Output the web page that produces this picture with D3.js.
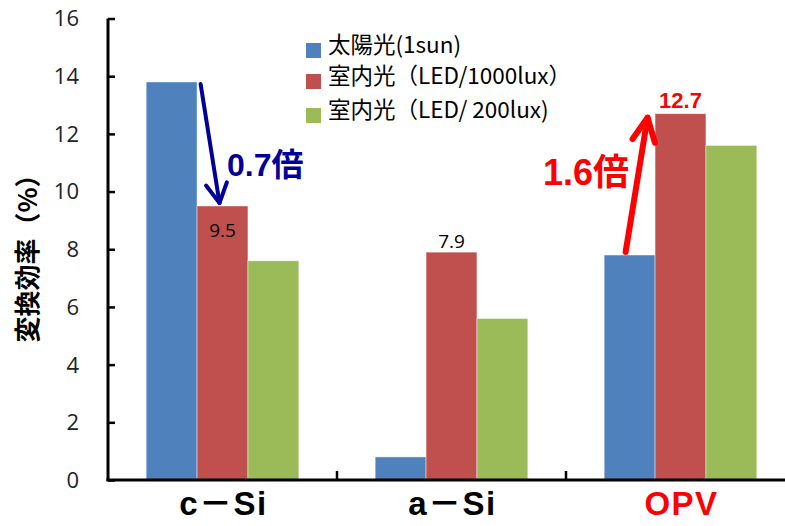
<!DOCTYPE html>
<html>
<head>
<meta charset="utf-8">
<script src="https://cdn.jsdelivr.net/npm/d3@7"></script>
<style>
  html, body { margin: 0; padding: 0; background: #fff; }
  svg { display: block; }
</style>
</head>
<body>
<svg id="chart" width="785" height="526"></svg>
<script>
// Conversion efficiency (%) by cell type and light source
const categories = ["c\uFF0DSi", "a\uFF0DSi", "OPV"];
const seriesNames = ["太陽光(1sun)", "室内光（LED/1000lux）", "室内光（LED/ 200lux)"];
const sun1 = [13.8, 0.8, 7.8];
const led1000 = [9.5, 7.9, 12.7];
const led200 = [7.6, 5.6, 11.6];
const yTicks = [0, 2, 4, 6, 8, 10, 12, 14, 16];
const seriesColors = ["#4F81BD", "#C0504D", "#9BBB59"];

const seriesValues = [sun1, led1000, led200];

const svg = d3.select("#chart");
const plot = { left: 108, right: 795, top: 18.5, bottom: 480 };
const legendRowY = [45, 76, 110];

const x = d3.scaleBand().domain(categories).range([plot.left, plot.right]).paddingInner(0).paddingOuter(0);
const x1 = d3.scaleBand().domain(d3.range(seriesNames.length)).range([0, x.bandwidth()]).paddingInner(0).paddingOuter(0.75);
const y = d3.scaleLinear().domain([0, 16]).range([plot.bottom, plot.top]);

// Bars
const groups = svg.append("g").selectAll("g")
  .data(categories)
  .join("g")
  .attr("transform", d => `translate(${x(d)},0)`);

groups.selectAll("rect")
  .data((d, i) => seriesValues.map((vals, s) => ({ s, v: vals[i] })))
  .join("rect")
  .attr("x", d => x1(d.s))
  .attr("width", x1.bandwidth())
  .attr("y", d => y(d.v))
  .attr("height", d => y(0) - y(d.v))
  .attr("fill", d => seriesColors[d.s])
  .attr("stroke", "rgba(255,255,255,0.55)")
  .attr("stroke-width", 0.8);

// Y axis with inward ticks
const yAxis = d3.axisRight(y).tickValues(yTicks).tickSize(7).tickFormat("");
const yg = svg.append("g").attr("transform", `translate(${plot.left},0)`).call(yAxis);
yg.select(".domain").remove();
yg.selectAll(".tick line").attr("stroke", "#000").attr("stroke-width", 2.5);
svg.append("line")
  .attr("x1", plot.left).attr("x2", plot.left)
  .attr("y1", y(16)).attr("y2", plot.bottom + 1)
  .attr("stroke", "#000").attr("stroke-width", 3);

svg.append("g").selectAll("text")
  .data(yTicks)
  .join("text")
  .attr("x", 79)
  .attr("y", d => y(d))
  .attr("dy", "0.36em")
  .attr("text-anchor", "end")
  .attr("font-family", "'Open Sans', 'Noto Sans', sans-serif")
  .attr("font-size", 22)
  .attr("fill", "#222")
  .text(d => d);

// X axis with category separators
svg.append("line")
  .attr("x1", plot.left - 1.5).attr("x2", plot.right)
  .attr("y1", plot.bottom).attr("y2", plot.bottom)
  .attr("stroke", "#000").attr("stroke-width", 3);
svg.append("g").selectAll("line")
  .data(categories.slice(1))
  .join("line")
  .attr("x1", d => x(d)).attr("x2", d => x(d))
  .attr("y1", plot.bottom).attr("y2", plot.bottom - 9)
  .attr("stroke", "#000").attr("stroke-width", 2.5);

svg.append("g").selectAll("text")
  .data(categories)
  .join("text")
  .attr("x", d => x(d) + x.bandwidth() / 2 + 1)
  .attr("y", 515)
  .attr("text-anchor", "middle")
  .attr("font-family", "'Liberation Sans', Arial, 'Noto Sans CJK JP', sans-serif")
  .attr("font-weight", "bold")
  .attr("font-size", 33)
  .attr("letter-spacing", 1.5)
  .attr("fill", d => d === "OPV" ? "#FF0000" : "#000")
  .text(d => d);

// Y axis title
svg.append("text")
  .attr("transform", "translate(37,252) rotate(-90)")
  .attr("text-anchor", "middle")
  .attr("font-family", "'Noto Sans CJK JP', sans-serif")
  .attr("font-weight", "bold")
  .attr("font-size", 26)
  .attr("fill", "#000")
  .text("変換効率（%）");

// Legend
const legend = svg.append("g").selectAll("g")
  .data(seriesNames)
  .join("g")
  .attr("transform", (d, i) => `translate(306,${legendRowY[i]})`);
legend.append("rect")
  .attr("x", 0).attr("y", -2).attr("width", 15).attr("height", 15)
  .attr("fill", (d, i) => seriesColors[i]);
legend.append("text")
  .attr("x", 22).attr("y", 0).attr("dy", "0.35em")
  .attr("font-family", "'Noto Sans CJK JP', sans-serif")
  .attr("font-size", 22.5)
  .attr("fill", "#000")
  .text(d => d);

// Value labels on selected bars
const barCenter = (ci, s) => x(categories[ci]) + x1(s) + x1.bandwidth() / 2;
svg.append("text")
  .attr("x", barCenter(0, 1)).attr("y", y(led1000[0]) + 31)
  .attr("text-anchor", "middle")
  .attr("font-family", "'Open Sans', 'Noto Sans', sans-serif")
  .attr("font-size", 19).attr("fill", "#000")
  .text(led1000[0].toFixed(1));
svg.append("text")
  .attr("x", barCenter(1, 1)).attr("y", y(led1000[1]) - 4)
  .attr("text-anchor", "middle")
  .attr("font-family", "'Open Sans', 'Noto Sans', sans-serif")
  .attr("font-size", 19).attr("fill", "#000")
  .text(led1000[1].toFixed(1));
svg.append("text")
  .attr("x", barCenter(2, 1)).attr("y", y(led1000[2]) - 6)
  .attr("text-anchor", "middle")
  .attr("font-family", "'Liberation Sans', Arial, sans-serif")
  .attr("font-weight", "bold")
  .attr("font-size", 22).attr("fill", "#FF0000")
  .text(led1000[2].toFixed(1));

// Ratio arrows
function arrow(x0, y0, x1p, y1p, color, width, head, spread) {
  const ang = Math.atan2(y1p - y0, x1p - x0);
  const g = svg.append("g").attr("stroke", color).attr("fill", "none")
    .attr("stroke-width", width).attr("stroke-linecap", "round").attr("stroke-linejoin", "round");
  g.append("line").attr("x1", x0).attr("y1", y0).attr("x2", x1p).attr("y2", y1p);
  const a1 = ang + Math.PI - spread, a2 = ang + Math.PI + spread;
  g.append("path").attr("d",
    `M${x1p + head * Math.cos(a1)},${y1p + head * Math.sin(a1)} L${x1p},${y1p} L${x1p + head * Math.cos(a2)},${y1p + head * Math.sin(a2)}`);
}
const ratioLow = led1000[0] / sun1[0];
const ratioHigh = led1000[2] / sun1[2];

arrow(barCenter(0, 0) + 29, y(sun1[0]) + 2, barCenter(0, 1) - 3, y(led1000[0]) - 3, "#000099", 4, 22, 0.5);
arrow(barCenter(2, 0) - 4, y(sun1[2]) - 3, barCenter(2, 1) - 33, y(led1000[2]) + 4, "#FF0000", 6, 26, 0.45);

svg.append("text")
  .attr("x", 227).attr("y", 176)
  .attr("font-family", "'Liberation Sans', Arial, 'Noto Sans CJK JP', sans-serif")
  .attr("font-weight", "bold").attr("font-size", 32).attr("fill", "#000099")
  .text(ratioLow.toFixed(1) + "倍");
svg.append("text")
  .attr("x", 543).attr("y", 185)
  .attr("font-family", "'Liberation Sans', Arial, 'Noto Sans CJK JP', sans-serif")
  .attr("font-weight", "bold").attr("font-size", 36).attr("fill", "#FF0000")
  .text(ratioHigh.toFixed(1) + "倍");
</script>
</body>
</html>
